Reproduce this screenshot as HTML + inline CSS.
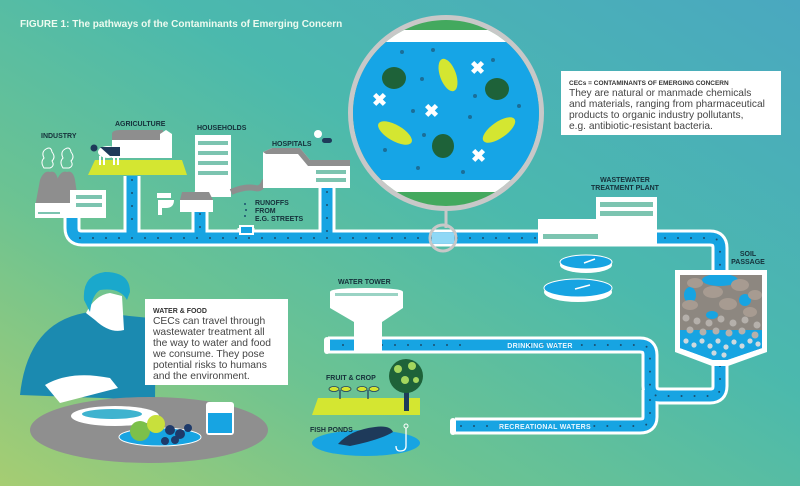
<!DOCTYPE html>
<html><head><meta charset="utf-8"><style>
html,body{margin:0;padding:0;width:800px;height:486px;overflow:hidden}
svg{display:block}
text{font-family:"Liberation Sans",sans-serif}
.lb{font-size:7px;font-weight:bold;fill:#15303a}
.pw{font-size:7px;font-weight:bold;fill:#e8f6ff;letter-spacing:.3px}
</style></head><body>
<svg width="800" height="486" viewBox="0 0 800 486" xmlns="http://www.w3.org/2000/svg">
<defs>
<linearGradient id="bg" x1="0" y1="1" x2="1" y2="0">
<stop offset="0" stop-color="#a6cd72"/>
<stop offset="0.3" stop-color="#6cc392"/>
<stop offset="0.6" stop-color="#4bb9ad"/>
<stop offset="1" stop-color="#4aa8c0"/>
</linearGradient>
<clipPath id="lens"><circle cx="446" cy="113" r="93"/></clipPath>
<clipPath id="soil"><path d="M680 275 H762 V348 L727 360 H713 L680 348Z"/></clipPath>
</defs>
<rect width="800" height="486" fill="url(#bg)"/>
<text x="20" y="27" font-size="10" font-weight="bold" fill="#eefbf0">FIGURE 1: The pathways of the Contaminants of Emerging Concern</text>

<!-- pipes -->
<g fill="none" stroke="#fff" stroke-width="17" stroke-linejoin="round">
<path d="M72 218 V228 Q72 238 82 238 H710 Q720 238 720 248 V272"/>
<path d="M132 176 V238 M200 210 V238 M246 228 V238 M327 188 V238"/>
<path d="M720 362 V386 Q720 396 710 396 H660 Q650 396 650 386 V355 Q650 345 640 345 H328"/>
<path d="M650 390 V417 Q650 426 640 426 H455"/>
</g>
<g fill="none" stroke="#17a4e2" stroke-width="11" stroke-linejoin="round">
<path d="M72 218 V228 Q72 238 82 238 H710 Q720 238 720 248 V272"/>
<path d="M132 176 V238 M200 210 V238 M246 228 V238 M327 188 V238"/>
<path d="M720 362 V386 Q720 396 710 396 H660 Q650 396 650 386 V355 Q650 345 640 345 H328"/>
<path d="M650 390 V417 Q650 426 640 426 H455"/>
</g>
<g fill="none" stroke="#1b4e6e" stroke-width="2" stroke-linecap="round" stroke-dasharray="0 13">
<path d="M80 238 H712 Q720 238 720 250 V270"/>
<path d="M132 180 V232 M200 214 V232 M327 192 V232"/>
<path d="M720 366 V388 Q720 396 710 396 H660 Q650 396 650 386 V355 Q650 345 640 345 H520 M460 345 H335"/>
<path d="M650 400 V417 Q650 426 640 426 H590 M500 426 H460"/>
</g>
<rect x="450" y="418" width="6" height="17" rx="3" fill="#fff"/>
<rect x="324" y="337" width="6" height="17" rx="3" fill="#fff"/>
<text x="540" y="348" class="pw" text-anchor="middle">DRINKING WATER</text>
<text x="545" y="429" class="pw" text-anchor="middle">RECREATIONAL WATERS</text>

<!-- industry -->
<path d="M35 207 L40 180 Q44 170 50 172 Q56 170 58 180 L62 207Z" fill="#8e8e8e"/>
<path d="M52 207 L57 180 Q61 170 67 172 Q73 170 75 180 L79 207Z" fill="#8e8e8e"/>
<path d="M44 168 q-4-6 0-10 q-3-6 2-9 q5-3 6 3 q4 5 0 9 q3 5-2 7Z M63 168 q-4-6 0-10 q-3-6 2-9 q5-3 6 3 q4 5 0 9 q3 5-2 7Z" fill="none" stroke="#fff" stroke-width="1"/>
<rect x="35" y="203" width="40" height="15" fill="#fff"/>
<rect x="70" y="190" width="36" height="28" fill="#fff"/>
<g fill="#7cc4b0"><rect x="76" y="195" width="26" height="4"/><rect x="76" y="203" width="26" height="4"/><rect x="38" y="212" width="22" height="2"/></g>
<text x="41" y="138" class="lb">INDUSTRY</text>
<!-- agriculture -->
<path d="M95 160 H182 L187 175 H88Z" fill="#d4e631"/>
<path d="M112 134 Q112 130 120 130 H163 V140 H112Z" fill="#8e8e8e"/>
<rect x="112" y="140" width="52" height="18" fill="#fff"/>
<path d="M160 134 L166 130 L172 134 V158 H160Z" fill="#fff"/>
<ellipse cx="108" cy="152" rx="10" ry="6" fill="#fff"/>
<path d="M100 147 H120 V156 H110Z" fill="#1e3a5a"/>
<circle cx="94" cy="148" r="3.5" fill="#1e3a5a"/>
<path d="M100 156 v9 M104 156 v9 M114 156 v9 M118 156 v9" stroke="#fff" stroke-width="2"/>
<text x="115" y="126" class="lb">AGRICULTURE</text>
<!-- households -->
<rect x="195" y="135" width="36" height="62" fill="#fff"/>
<g fill="#7cc4b0"><rect x="198" y="141" width="30" height="4"/><rect x="198" y="151" width="30" height="4"/><rect x="198" y="161" width="30" height="4"/><rect x="198" y="171" width="30" height="4"/></g>
<path d="M180 200 L196 191 L213 200 V212 H180Z" fill="#fff"/>
<path d="M182 192 H209 L213 200 H180Z" fill="#8e8e8e"/>
<path d="M157 193 h14 v5 h-14z M158 200 h16 q0 8-8 8 h-4 v7 h-4z" fill="#fff"/>
<path d="M231 192 Q245 186 255 188 Q262 190 265 180" fill="none" stroke="#8e8e8e" stroke-width="6"/>
<text x="197" y="130" class="lb">HOUSEHOLDS</text>
<g fill="#1b4e6e"><circle cx="245" cy="204" r="1"/><circle cx="246" cy="210" r="1"/><circle cx="245" cy="216" r="1"/></g>
<text x="255" y="205" class="lb">RUNOFFS</text><text x="255" y="213" class="lb">FROM</text><text x="255" y="221" class="lb">E.G. STREETS</text>
<rect x="240" y="226" width="13" height="8" fill="#17a4e2" stroke="#fff" stroke-width="2"/>
<!-- hospital -->
<path d="M263 152 L272 148 H300 L310 160 H350 V188 H263Z" fill="#fff"/>
<path d="M263 152 L272 148 H300 L310 160 H350 V166 H308 L298 154 H266Z" fill="#8e8e8e"/>
<g fill="#7cc4b0"><rect x="316" y="170" width="30" height="4"/><rect x="316" y="178" width="30" height="4"/></g>
<circle cx="318" cy="134" r="4" fill="#fff"/><rect x="322" y="138" width="10" height="5" rx="2.5" fill="#1e3a5a"/>
<text x="272" y="146" class="lb">HOSPITALS</text>

<!-- magnifier -->
<line x1="446" y1="210" x2="446" y2="228" stroke="#c8c8c8" stroke-width="3"/>
<circle cx="443" cy="238" r="13" fill="none" stroke="#c8c8c8" stroke-width="3"/>
<rect x="432" y="233" width="22" height="10" fill="#8fd8f6"/>
<circle cx="446" cy="113" r="98" fill="#c8c8c8"/>
<g clip-path="url(#lens)">
<rect x="340" y="0" width="220" height="240" fill="#43a95e"/>
<rect x="340" y="30" width="220" height="12" fill="#fff"/>
<rect x="340" y="42" width="220" height="138" fill="#16a5e6"/>
<rect x="340" y="180" width="220" height="12" fill="#fff"/>
</g>
<g fill="#1e6239"><ellipse cx="394" cy="78" rx="12" ry="11"/><ellipse cx="497" cy="89" rx="12" ry="11"/><ellipse cx="443" cy="146" rx="11" ry="12"/></g>
<g fill="#d4e631">
<ellipse cx="448" cy="75" rx="8" ry="17" transform="rotate(-20 448 75)"/>
<ellipse cx="395" cy="133" rx="8" ry="19" transform="rotate(-60 395 133)"/>
<ellipse cx="499" cy="130" rx="8" ry="19" transform="rotate(55 499 130)"/>
</g>
<g fill="#fff" font-size="18" font-weight="bold"><text x="372" y="106">✖</text><text x="424" y="117">✖</text><text x="470" y="74">✖</text><text x="471" y="162">✖</text></g>
<g fill="#1b6e98"><circle cx="402" cy="52" r="2"/><circle cx="433" cy="50" r="2"/><circle cx="493" cy="60" r="2"/><circle cx="422" cy="79" r="2"/><circle cx="475" cy="96" r="2"/><circle cx="413" cy="111" r="2"/><circle cx="470" cy="117" r="2"/><circle cx="519" cy="106" r="2"/><circle cx="424" cy="135" r="2"/><circle cx="385" cy="150" r="2"/><circle cx="418" cy="168" r="2"/><circle cx="463" cy="172" r="2"/></g>

<!-- CEC box -->
<rect x="561" y="71" width="220" height="64" fill="#fff"/>
<text x="569" y="85" font-size="6.5" font-weight="bold" fill="#333">CECs = CONTAMINANTS OF EMERGING CONCERN</text>
<g font-size="10.2" fill="#444"><text x="569" y="96">They are natural or manmade chemicals</text><text x="569" y="107">and materials, ranging from pharmaceutical</text><text x="569" y="118">products to organic industry pollutants,</text><text x="569" y="129">e.g. antibiotic-resistant bacteria.</text></g>

<!-- treatment plant -->
<rect x="538" y="219" width="119" height="27" fill="#fff"/>
<rect x="596" y="197" width="61" height="24" fill="#fff"/>
<g fill="#7cc4b0"><rect x="600" y="202" width="53" height="5"/><rect x="600" y="211" width="53" height="5"/><rect x="543" y="234" width="55" height="5"/></g>
<text x="625" y="182" class="lb" text-anchor="middle">WASTEWATER</text><text x="625" y="190" class="lb" text-anchor="middle">TREATMENT PLANT</text>
<ellipse cx="586" cy="265" rx="26" ry="8" fill="#fff"/><ellipse cx="586" cy="262" rx="26" ry="7" fill="#17a4e2" stroke="#fff"/>
<ellipse cx="578" cy="292" rx="34" ry="10" fill="#fff"/><ellipse cx="578" cy="288" rx="34" ry="9" fill="#17a4e2" stroke="#fff"/>
<line x1="584" y1="263" x2="595" y2="259" stroke="#fff" stroke-width="1.5"/><line x1="575" y1="289" x2="590" y2="285" stroke="#fff" stroke-width="1.5"/>

<!-- soil passage -->
<path d="M675 270 H767 V352 L728 366 H712 L675 352Z" fill="#fff"/>
<path d="M680 275 H762 V348 L727 360 H713 L680 348Z" fill="#17a4e2"/>
<g clip-path="url(#soil)">
<path d="M680 275 H762 V350 H680Z" fill="#8d8780"/>
<g fill="#17a4e2"><ellipse cx="720" cy="280" rx="18" ry="6"/><ellipse cx="690" cy="295" rx="6" ry="8"/><ellipse cx="745" cy="300" rx="6" ry="6"/><ellipse cx="712" cy="315" rx="6" ry="4"/><rect x="680" y="330" width="82" height="30"/></g>
<g fill="#a79b91"><ellipse cx="695" cy="283" rx="8" ry="5"/><ellipse cx="713" cy="292" rx="10" ry="6"/><ellipse cx="740" cy="285" rx="9" ry="6"/><ellipse cx="755" cy="295" rx="7" ry="5"/><ellipse cx="690" cy="305" rx="8" ry="5"/><ellipse cx="728" cy="304" rx="9" ry="6"/><ellipse cx="750" cy="312" rx="7" ry="5"/></g>
<g fill="#b5b0ab"><circle cx="686" cy="318" r="3.5"/><circle cx="697" cy="321" r="3.5"/><circle cx="709" cy="323" r="3.5"/><circle cx="721" cy="319" r="3.5"/><circle cx="733" cy="323" r="3.5"/><circle cx="745" cy="320" r="3.5"/><circle cx="757" cy="325" r="3.5"/><circle cx="690" cy="330" r="3.5"/><circle cx="703" cy="332" r="3.5"/><circle cx="716" cy="331" r="3.5"/><circle cx="729" cy="333" r="3.5"/><circle cx="742" cy="331" r="3.5"/><circle cx="755" cy="335" r="3.5"/></g>
<g fill="#cfd9de"><circle cx="686" cy="341" r="2.6"/><circle cx="694" cy="345" r="2.6"/><circle cx="702" cy="341" r="2.6"/><circle cx="710" cy="346" r="2.6"/><circle cx="718" cy="341" r="2.6"/><circle cx="726" cy="347" r="2.6"/><circle cx="734" cy="342" r="2.6"/><circle cx="742" cy="346" r="2.6"/><circle cx="750" cy="341" r="2.6"/><circle cx="758" cy="344" r="2.6"/><circle cx="714" cy="353" r="2.6"/><circle cx="724" cy="355" r="2.6"/></g>
</g>
<text x="748" y="256" class="lb" text-anchor="middle">SOIL</text><text x="748" y="264" class="lb" text-anchor="middle">PASSAGE</text>

<!-- water tower -->
<path d="M330 292 Q330 288 366 288 Q403 288 403 292 V308 L382 322 V352 H354 V322 L330 308Z" fill="#fff"/>
<g fill="#9ad3c4"><rect x="335" y="293" width="63" height="3"/></g>
<text x="338" y="284" class="lb">WATER TOWER</text>
<!-- fruit & crop -->
<path d="M318 398 H420 V415 H312Z" fill="#d4e631"/>
<rect x="404" y="380" width="5" height="31" fill="#1e3a5a"/>
<circle cx="406" cy="376" r="17" fill="#1e6239"/>
<g fill="#a4d65e"><circle cx="398" cy="369" r="4"/><circle cx="412" cy="366" r="4"/><circle cx="405" cy="380" r="4"/><circle cx="416" cy="380" r="3"/></g>
<g fill="#d4e631" stroke="#1e3a5a" stroke-width="0.8"><ellipse cx="334" cy="389" rx="5" ry="2.5"/><ellipse cx="346" cy="389" rx="5" ry="2.5"/><ellipse cx="362" cy="389" rx="5" ry="2.5"/><ellipse cx="374" cy="389" rx="5" ry="2.5"/></g>
<path d="M340 390 v9 M368 390 v9" stroke="#1e3a5a" stroke-width="1.2"/>
<text x="326" y="380" class="lb">FRUIT &amp; CROP</text>
<!-- fish pond -->
<ellipse cx="366" cy="443" rx="54" ry="13" fill="#17a4e2"/>
<path d="M338 444 Q350 430 375 427 Q390 425 393 432 Q380 440 350 446Z" fill="#1e3a5a"/>
<path d="M406 428 V446 Q406 451 400 451 Q396 451 396 446" fill="none" stroke="#fff" stroke-width="1.3"/>
<circle cx="406" cy="426" r="2" fill="none" stroke="#fff"/>
<text x="310" y="432" class="lb">FISH PONDS</text>

<!-- person -->
<path d="M20 395 Q28 320 90 312 L150 318 Q156 340 155 400Z" fill="#1b8ab0"/>
<path d="M86 313 Q95 295 110 293 L122 296 L124 330 Q110 334 95 320Z" fill="#fff"/>
<path d="M84 300 Q82 275 105 272 Q130 272 130 292 L127 300 Q120 287 100 290 Q92 295 90 312Z" fill="#1aa8cc"/>
<path d="M45 385 Q70 370 110 378 L118 388 L60 403Z" fill="#fff"/>
<!-- table -->
<ellipse cx="149" cy="430" rx="119" ry="33" fill="#8f8f8f"/>
<ellipse cx="115" cy="416" rx="44" ry="10" fill="#fff"/>
<ellipse cx="112" cy="414" rx="30" ry="5" fill="#3fb3cf"/>
<ellipse cx="160" cy="437" rx="41" ry="9" fill="#17a4e2" stroke="#fff"/>
<circle cx="140" cy="431" r="10" fill="#7cc04a"/><circle cx="156" cy="424" r="9" fill="#c8e03c"/>
<g fill="#1e3a6a"><circle cx="170" cy="430" r="5"/><circle cx="180" cy="434" r="5"/><circle cx="188" cy="428" r="4"/><circle cx="175" cy="440" r="4"/><circle cx="165" cy="441" r="4"/></g>
<rect x="206" y="402" width="28" height="33" rx="3" fill="#fff"/>
<rect x="208" y="413" width="24" height="20" fill="#17a4e2"/>
<!-- water & food box -->
<rect x="145" y="299" width="143" height="86" fill="#fff"/>
<text x="153" y="313" font-size="7" font-weight="bold" fill="#333">WATER &amp; FOOD</text>
<g font-size="10.3" fill="#444"><text x="153" y="324">CECs can travel through</text><text x="153" y="335">wastewater treatment all</text><text x="153" y="346">the way to water and food</text><text x="153" y="357">we consume. They pose</text><text x="153" y="368">potential risks to humans</text><text x="153" y="379">and the environment.</text></g>
</svg>
</body></html>
